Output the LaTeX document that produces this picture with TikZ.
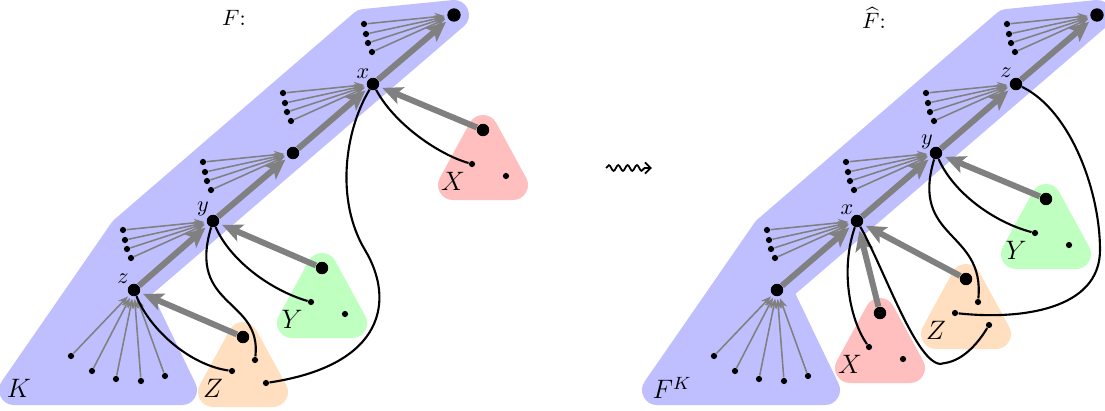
\documentclass[tikz,border=0pt]{standalone}
\usepackage{amssymb}
\usetikzlibrary{arrows.meta,calc,decorations.pathmorphing}
\newcommand\mytri[5]{%
  \filldraw[#3,hull] (#2) -- ++(-30,55) -- ++(60,0) -- cycle;
  \node[bigdot] (#1) at (#2) {};
  \path (#2) ++(-11,34) node[smalldot] (#1a) {};
  \path (#2) ++(23,46) node[smalldot] (#1c) {};
  \path (#2) ++(-30,51) node[lab] (#1l) {$#4$};
  #5}
\begin{document}
\begin{tikzpicture}[x=0.45pt,y=-0.45pt,
  bigdot/.style={circle,fill=black,inner sep=0pt,minimum size=5.6pt},
  smalldot/.style={circle,fill=black,inner sep=0pt,minimum size=2.8pt},
  fanarr/.style={draw=gray,line width=0.7pt,-{Stealth[length=4.5pt,width=3.6pt]},shorten >=1pt},
  thickarr/.style={draw=gray,line width=2.7pt,-{Stealth[length=9pt,width=8pt,inset=2pt]},shorten >=1.5pt},
  curvy/.style={draw=black,line width=0.95pt},
  hull/.style={line width=13.5pt,line join=round},
  lab/.style={font=\large,inner sep=0pt},
  squig/.style={line width=0.8pt,decorate,decoration={snake,amplitude=1.3pt,segment length=4.2pt,post length=2.5pt},-{Straight Barb[length=2.6pt,width=5pt]}}]
\useasboundingbox (0,0) rectangle (1105,410);

% blue hulls
\filldraw[blue!25,hull] (454,15) -- (364,24) -- (124,231) -- (14,390) -- (182,390) -- (134,290) -- cycle;
\begin{scope}[shift={(643,0)}]
\filldraw[blue!25,hull] (454,15) -- (364,24) -- (124,231) -- (14,390) -- (182,390) -- (134,290) -- cycle;
\end{scope}

% triangles
\mytri{LX}{483,130}{red!25}{X}{}
\mytri{LY}{322,268}{green!25}{Y}{}
\mytri{LZ}{243,337}{orange!25}{Z}{\path (LZ) ++(12,23) node[smalldot] (LZb) {};}
\mytri{RX}{880,313}{red!25}{X}{}
\mytri{RY}{1046,199}{green!25}{Y}{}
\mytri{RZ}{966,279}{orange!25}{Z}{\path (RZ) ++(12,23) node[smalldot] (RZb) {};}

% chain nodes
\node[bigdot] (lz) at (134,290) {};
\node[bigdot] (ly) at (213,221) {};
\node[bigdot] (lm) at (293,153) {};
\node[bigdot] (lx) at (373,84) {};
\node[bigdot,minimum size=6pt] (lt) at (454,15) {};
\node[bigdot] (rb) at (777,290) {};
\node[bigdot] (rx) at (857,221) {};
\node[bigdot] (ry) at (936,153) {};
\node[bigdot] (rz) at (1016,84) {};
\node[bigdot,minimum size=6pt] (rt) at (1097,15) {};

% fans
\foreach \n in {ly,lm,lx,lt,rx,ry,rz,rt}{
  \foreach \dx/\dy [count=\i] in {-90/9,-88/19,-86/28,-82/37}{
    \path (\n) ++(\dx,\dy) node[smalldot] (\n f\i) {};
    \draw[fanarr] (\n f\i) -- (\n);
  }
}
\foreach \n in {lz,rb}{
  \foreach \dx/\dy [count=\i] in {-63/66,-42/81,-18/89,7/91,31/86}{
    \path (\n) ++(\dx,\dy) node[smalldot] (\n k\i) {};
    \draw[fanarr] (\n k\i) -- (\n);
  }
}

% chain arrows
\draw[thickarr] (lz) -- (ly);
\draw[thickarr] (ly) -- (lm);
\draw[thickarr] (lm) -- (lx);
\draw[thickarr] (lx) -- (lt);
\draw[thickarr] (rb) -- (rx);
\draw[thickarr] (rx) -- (ry);
\draw[thickarr] (ry) -- (rz);
\draw[thickarr] (rz) -- (rt);

% triangle arrows
\draw[thickarr] (LX) -- (lx);
\draw[thickarr] (LY) -- (ly);
\draw[thickarr] (LZ) -- (lz);
\draw[thickarr] (RX) -- (rx);
\draw[thickarr] (RY) -- (ry);
\draw[thickarr] (RZ) -- (rx);

% black curves, left
\draw[curvy] (lx) .. controls (395,125) and (440,155) .. (LXa);
\draw[curvy] (lx) .. controls (345,130) and (335,200) .. (365,250) .. controls (395,300) and (385,365) .. (LZc);
\draw[curvy] (ly) .. controls (230,260) and (270,290) .. (LYa);
\draw[curvy] (ly) .. controls (187,308) and (262,298) .. (LZb);
\draw[curvy] (lz) .. controls (150,330) and (190,365) .. (LZa);
% black curves, right
\draw[curvy] (rx) .. controls (840,270) and (850,320) .. (RXa);
\draw[curvy] (rx) .. controls (885,270) and (920,375) .. (945,363) .. controls (965,360) and (980,340) .. (RZc);
\draw[curvy] (ry) .. controls (953,192) and (993,222) .. (RYa);
\draw[curvy] (ry) .. controls (910,240) and (985,230) .. (RZb);
\draw[curvy] (rz) .. controls (1070,110) and (1100,190) .. (1100,250) .. controls (1100,310) and (1020,320) .. (RZa);

% labels
\node (lxl) at (363,74) {$x$};
\node (lyl) at (203,209) {$y$};
\node (lzl) at (123,279) {$z$};
\node (rxl) at (847,210) {$x$};
\node (ryl) at (927,142) {$y$};
\node (rzl) at (1006,73) {$z$};
\node (lF) at (234,18) {$F$:};
\node (rF) at (874,18) {$\widehat{F}$:};
\node[lab] (lK) at (19,388) {$K$};
\node[lab] (rK) at (672,388) {$F^K$};
\coordinate (sqa) at (606,168);
\coordinate (sqb) at (652,168);
\draw[squig] (sqa) -- (sqb);
\end{tikzpicture}
\end{document}
